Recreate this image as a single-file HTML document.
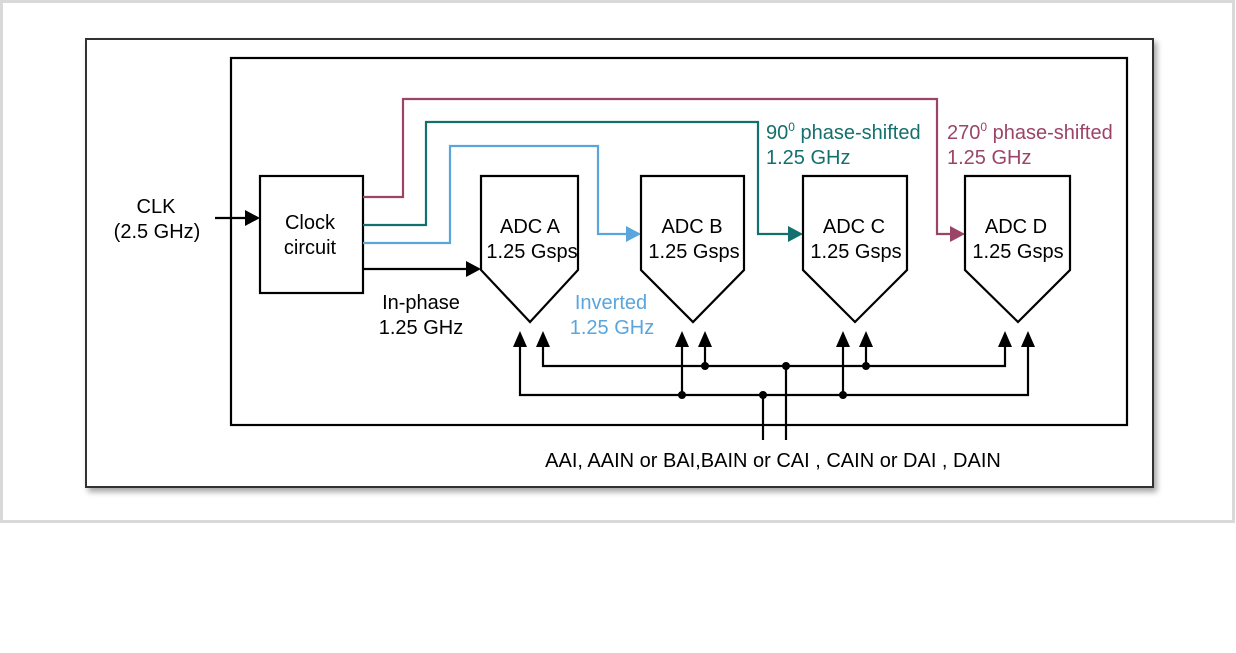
<!DOCTYPE html>
<html><head><style>
html,body{margin:0;padding:0;background:#fff;}
</style></head><body>
<svg width="1236" height="648" viewBox="0 0 1236 648" xmlns="http://www.w3.org/2000/svg" font-family="Liberation Sans, sans-serif" font-size="20">
<defs>
<filter id="sh" x="-5%" y="-5%" width="110%" height="115%"><feDropShadow dx="3" dy="4" stdDeviation="3" flood-color="#000" flood-opacity="0.35"/></filter>
</defs>
<rect x="1.5" y="1.5" width="1232" height="520" fill="#fff" stroke="#d9d9d9" stroke-width="3"/>
<rect x="86" y="39" width="1067" height="448" fill="#fff" stroke="#333" stroke-width="2" filter="url(#sh)"/>
<rect x="231" y="58" width="896" height="367" fill="none" stroke="#000" stroke-width="2.2"/>
<rect x="260" y="176" width="103" height="117" fill="#fff" stroke="#000" stroke-width="2.2"/>
<text x="310" y="229" text-anchor="middle">Clock</text>
<text x="310" y="254" text-anchor="middle">circuit</text>
<text x="156" y="213" text-anchor="middle">CLK</text>
<text x="157" y="238" text-anchor="middle">(2.5 GHz)</text>
<line x1="215" y1="218" x2="248" y2="218" stroke="#000" stroke-width="2.2"/>
<path d="M245,210 L260,218 L245,226 z" fill="#000"/>
<g fill="none" stroke-width="2.2">
<polyline points="363,197 403,197 403,99 937,99 937,234 952,234" stroke="#9b4468"/>
<polyline points="363,225 426,225 426,122 758,122 758,234 790,234" stroke="#14706e"/>
<polyline points="363,243 450,243 450,146 598,146 598,234 628,234" stroke="#5aa5dc"/>
<polyline points="363,269 468,269" stroke="#000"/>
</g>
<path d="M950,226 L965,234 L950,242 z" fill="#9b4468"/>
<path d="M788,226 L803,234 L788,242 z" fill="#14706e"/>
<path d="M626,226 L641,234 L626,242 z" fill="#5aa5dc"/>
<path d="M466,261 L481,269 L466,277 z" fill="#000"/>
<g fill="#fff" stroke="#000" stroke-width="2.2">
<polygon points="481,176 578,176 578,270 530,322 481,270"/>
<polygon points="641,176 744,176 744,270 693,322 641,270"/>
<polygon points="803,176 907,176 907,270 855,322 803,270"/>
<polygon points="965,176 1070,176 1070,270 1018,322 965,270"/>
</g>
<g text-anchor="middle">
<text x="530" y="233">ADC A</text><text x="532" y="258">1.25 Gsps</text>
<text x="692" y="233">ADC B</text><text x="694" y="258">1.25 Gsps</text>
<text x="854" y="233">ADC C</text><text x="856" y="258">1.25 Gsps</text>
<text x="1016" y="233">ADC D</text><text x="1018" y="258">1.25 Gsps</text>
<text x="421" y="309">In-phase</text><text x="421" y="334">1.25 GHz</text>
<text x="611" y="309" fill="#5aa5dc">Inverted</text><text x="612" y="334" fill="#5aa5dc">1.25 GHz</text>
</g>
<text x="766" y="139" fill="#14706e">90<tspan font-size="12" dy="-8">0</tspan><tspan dy="8"> phase-shifted</tspan></text>
<text x="766" y="164" fill="#14706e">1.25 GHz</text>
<text x="947" y="139" fill="#9b4468">270<tspan font-size="12" dy="-8">0</tspan><tspan dy="8"> phase-shifted</tspan></text>
<text x="947" y="164" fill="#9b4468">1.25 GHz</text>
<g fill="none" stroke="#000" stroke-width="2.2">
<polyline points="520,345 520,395 1028,395 1028,345"/>
<polyline points="543,345 543,366 1005,366 1005,345"/>
<line x1="682" y1="395" x2="682" y2="345"/>
<line x1="705" y1="366" x2="705" y2="345"/>
<line x1="843" y1="395" x2="843" y2="345"/>
<line x1="866" y1="366" x2="866" y2="345"/>
<line x1="763" y1="395" x2="763" y2="440"/>
<line x1="786" y1="366" x2="786" y2="440"/>
</g>
<g fill="#000">
<path d="M520,331 L527,347 L513,347 z"/><path d="M543,331 L550,347 L536,347 z"/>
<path d="M682,331 L689,347 L675,347 z"/><path d="M705,331 L712,347 L698,347 z"/>
<path d="M843,331 L850,347 L836,347 z"/><path d="M866,331 L873,347 L859,347 z"/>
<path d="M1005,331 L1012,347 L998,347 z"/><path d="M1028,331 L1035,347 L1021,347 z"/>
<circle cx="705" cy="366" r="4"/><circle cx="786" cy="366" r="4"/><circle cx="866" cy="366" r="4"/>
<circle cx="682" cy="395" r="4"/><circle cx="763" cy="395" r="4"/><circle cx="843" cy="395" r="4"/>
</g>
<text x="773" y="467" text-anchor="middle">AAI, AAIN or BAI,BAIN or CAI , CAIN or DAI , DAIN</text>
</svg>
</body></html>
